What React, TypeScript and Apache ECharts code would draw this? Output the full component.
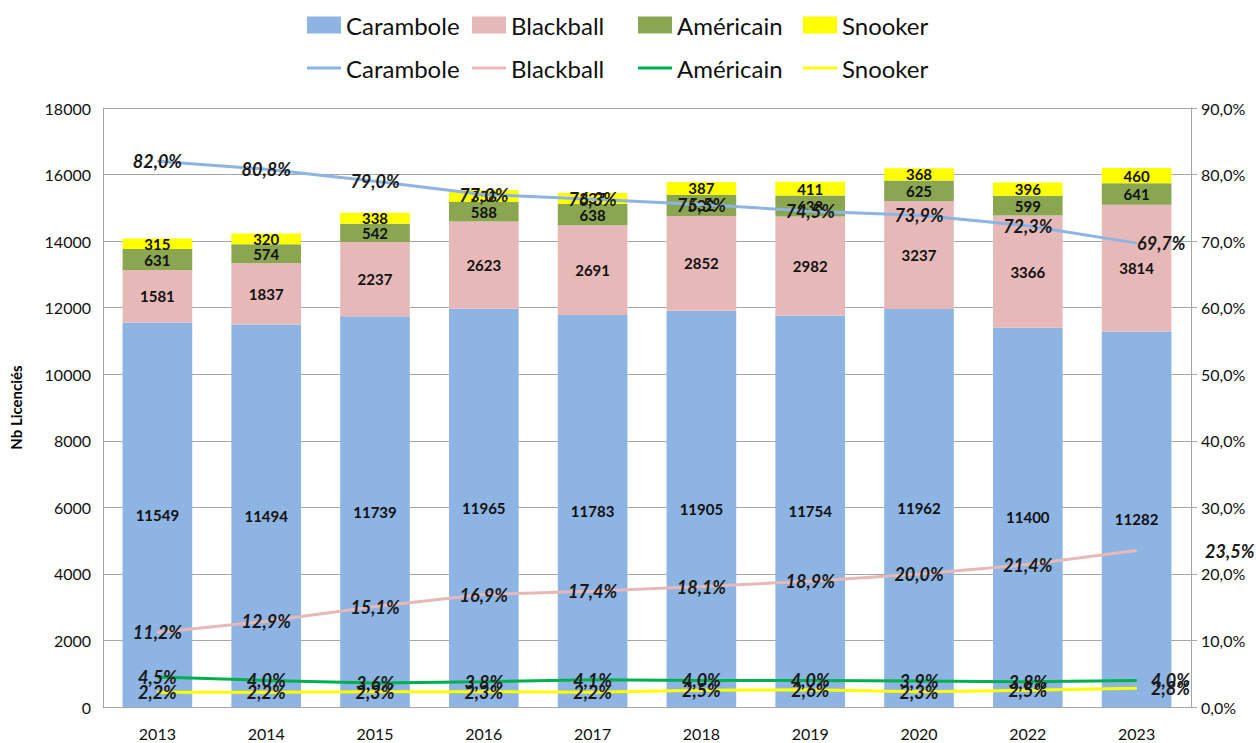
import React, { useEffect, useRef } from "react";
import * as echarts from "echarts";

const years = ["2013", "2014", "2015", "2016", "2017", "2018", "2019", "2020", "2022", "2023"];
const carambole = [11549, 11494, 11739, 11965, 11783, 11905, 11754, 11962, 11400, 11282];
const blackball = [1581, 1837, 2237, 2623, 2691, 2852, 2982, 3237, 3366, 3814];
const americain = [631, 574, 542, 588, 638, 632, 638, 625, 599, 641];
const snooker = [315, 320, 338, 358, 337, 387, 411, 368, 396, 460];

const caramboleP = [82.0, 80.8, 79.0, 77.0, 76.3, 75.5, 74.5, 73.9, 72.3, 69.7];
const blackballP = [11.2, 12.9, 15.1, 16.9, 17.4, 18.1, 18.9, 20.0, 21.4, 23.5];
const americainP = [4.5, 4.0, 3.6, 3.8, 4.1, 4.0, 4.0, 3.9, 3.8, 4.0];
const snookerP = [2.2, 2.2, 2.3, 2.3, 2.2, 2.5, 2.6, 2.3, 2.5, 2.8];

const names = ["Carambole", "Blackball", "Américain", "Snooker"];
const barColors = ["#8db4e2", "#e6b9b8", "#8aa650", "#ffff00"];
const lineColors = ["#8db4e2", "#e6b9b8", "#00b050", "#ffff00"];
const lastOffsets = [0, 68, 14, 14];

const FONT = "Lato";

export default function App() {
  const ref = useRef<HTMLDivElement>(null);
  useEffect(() => {
    if (!ref.current) return;
    const chart = echarts.init(ref.current, null, { renderer: "svg" });
    const barData = [carambole, blackball, americain, snooker];
    const lineData = [caramboleP, blackballP, americainP, snookerP];
    const fmtPct = (v: number) => v.toFixed(1).replace(".", ",") + "%";

    const legendLefts = [302, 467, 633, 798];
    const legends: any[] = [];
    names.forEach((n, i) => {
      legends.push({
        data: [n],
        left: legendLefts[i],
        top: 8,
        icon: "rect",
        itemWidth: 34,
        itemHeight: 17,
        itemGap: 4,
        textStyle: { fontFamily: FONT, fontSize: 24, color: "#111" },
      });
      legends.push({
        data: [n + " (%)"],
        left: legendLefts[i],
        top: 51,
        icon: "rect",
        itemWidth: 34,
        itemHeight: 3,
        formatter: (name: string) => name.replace(" (%)", ""),
        textStyle: { fontFamily: FONT, fontSize: 24, color: "#111" },
      });
    });

    const series: any[] = [];
    names.forEach((n, i) => {
      series.push({
        name: n,
        type: "bar",
        stack: "total",
        barCategoryGap: "36%",
        color: barColors[i],
        data: barData[i],
        label: {
          show: true,
          position: "inside",
          fontFamily: FONT,
          fontSize: 15,
          fontWeight: "bold",
          color: "#111",
        },
        z: 2,
      });
    });
    names.forEach((n, i) => {
      series.push({
        name: n + " (%)",
        type: "line",
        yAxisIndex: 1,
        color: lineColors[i],
        symbol: "circle",
        symbolSize: 1,
        lineStyle: { width: 3, color: lineColors[i] },
        data: lineData[i].map((v, k) =>
          k === lineData[i].length - 1
            ? { value: v, label: { position: "right", distance: lastOffsets[i] } }
            : v
        ),
        label: {
          show: true,
          position: "inside",
          formatter: (p: any) => fmtPct(p.value),
          fontFamily: FONT,
          fontSize: 18,
          fontWeight: "bold",
          fontStyle: "italic",
          color: "#1a1a1a",
        },
        z: 5,
      });
    });

    chart.setOption({
      animation: false,
      backgroundColor: "#ffffff",
      legend: legends,
      grid: { left: 102, right: 65, top: 108, bottom: 36 },
      xAxis: {
        type: "category",
        data: years,
        axisLine: { lineStyle: { color: "#a6a6a6", width: 1 } },
        axisTick: { show: false },
        axisLabel: { fontFamily: FONT, fontSize: 16, color: "#111", margin: 18 },
      },
      yAxis: [
        {
          type: "value",
          name: "Nb Licenciés",
          nameLocation: "middle",
          nameGap: 80,
          nameTextStyle: { fontFamily: FONT, fontSize: 15, fontWeight: "bold", color: "#000" },
          min: 0,
          max: 18000,
          interval: 2000,
          axisLine: { show: true, lineStyle: { color: "#a6a6a6" } },
          axisTick: { show: false },
          axisLabel: {
            fontFamily: FONT,
            fontSize: 16,
            color: "#111",
            margin: 12,
            formatter: (v: number) => String(v),
          },
          splitLine: { show: true, lineStyle: { color: "#a6a6a6", width: 1 } },
        },
        {
          type: "value",
          position: "right",
          min: 0,
          max: 90,
          interval: 10,
          axisLine: { show: true, lineStyle: { color: "#a6a6a6" } },
          axisTick: { show: true, length: 6, lineStyle: { color: "#a6a6a6" } },
          axisLabel: {
            fontFamily: FONT,
            fontSize: 16,
            color: "#111",
            margin: 10,
            formatter: (v: number) => fmtPct(v),
          },
          splitLine: { show: false },
        },
      ],
      series,
    });
    return () => chart.dispose();
  }, []);
  return <div ref={ref} style={{ width: 1256, height: 743, position: "absolute", left: 0, top: 0 }} />;
}
